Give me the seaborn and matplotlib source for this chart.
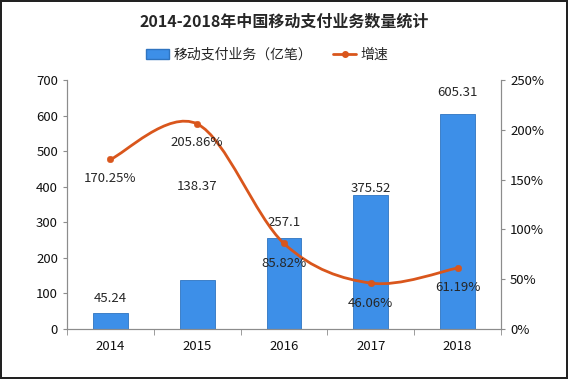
import numpy as np
import pandas as pd
import seaborn as sns
import matplotlib.pyplot as plt
from matplotlib.path import Path
from matplotlib.patches import PathPatch
from matplotlib.lines import Line2D
from matplotlib.patches import Patch

years = ['2014', '2015', '2016', '2017', '2018']
volume = [45.24, 138.37, 257.1, 375.52, 605.31]
growth = [170.25, 205.86, 85.82, 46.06, 61.19]
volume_labels = ['45.24', '138.37', '257.1', '375.52', '605.31']
growth_labels = ['170.25%', '205.86%', '85.82%', '46.06%', '61.19%']

sns.set_style('ticks')
plt.rcParams['font.family'] = ['Noto Sans CJK SC', 'DejaVu Sans']

bar_color = '#3d8fe8'
line_color = '#d9561c'
axis_color = '#8c8c8c'

df = pd.DataFrame({'year': years, 'volume': volume})

fig = plt.figure(figsize=(5.68, 3.79), dpi=100)
fig.patch.set_edgecolor('#222222')
fig.patch.set_linewidth(1.5)
ax = fig.add_axes([0.118, 0.132, 0.764, 0.657])

sns.barplot(data=df, x='year', y='volume', color=bar_color, width=0.4,
            edgecolor='#2f74c0', linewidth=0.6, saturation=1, ax=ax)
ax.set_xlim(-0.5, len(years) - 0.5)
ax.set_ylim(0, 700)
ax.set_yticks(range(0, 701, 100))
ax.set_xlabel('')
ax.set_ylabel('')

ax2 = ax.twinx()
ax2.set_ylim(0, 250)
ax2.set_yticks(range(0, 251, 50))
ax2.set_yticklabels([f'{v}%' for v in range(0, 251, 50)])

# smooth growth line (catmull-rom style bezier through the data points)
pts = np.column_stack([np.arange(len(growth)), growth]).astype(float)
verts = [pts[0]]
codes = [Path.MOVETO]
for i in range(len(pts) - 1):
    p0 = pts[i - 1] if i > 0 else pts[i]
    p1, p2 = pts[i], pts[i + 1]
    p3 = pts[i + 2] if i + 2 < len(pts) else pts[i + 1]
    verts += [p1 + (p2 - p0) / 6, p2 - (p3 - p1) / 6, p2]
    codes += [Path.CURVE4] * 3
ax2.add_patch(PathPatch(Path(verts, codes), facecolor='none',
                        edgecolor=line_color, linewidth=2))
sns.scatterplot(x=np.arange(len(growth)), y=growth, color=line_color, s=22,
                edgecolor=line_color, zorder=5, ax=ax2, legend=False)

# data labels
vol_label_y = [87, 400, 298, 396, 666]
for i, t in enumerate(volume_labels):
    ax.text(i, vol_label_y[i], t, ha='center', va='center', fontsize=9.5)
gr_label_pos = [(0.0, 151), (1.0, 187), (2.0, 66), (3.0, 26), (4.0, 42)]
for (x, y), t in zip(gr_label_pos, growth_labels):
    ax2.text(x, y, t, ha='center', va='center', fontsize=9.5)

for a in (ax, ax2):
    a.spines['top'].set_visible(False)
    for s in ('left', 'right', 'bottom'):
        a.spines[s].set_color(axis_color)
    a.tick_params(colors=axis_color, labelcolor='#111111', labelsize=9.5,
                  length=3)
ax.set_xticks(range(len(years)))
ax.set_xticks(np.arange(-0.5, len(years)), minor=True)
ax.tick_params(axis='x', which='major', length=0, pad=8)
ax.tick_params(axis='x', which='minor', length=4, color=axis_color)

fig.suptitle('2014-2018年中国移动支付业务数量统计', y=0.965, fontsize=11.5,
             fontweight='bold')
handles = [Patch(facecolor=bar_color, edgecolor='#2f74c0'),
           Line2D([], [], color=line_color, lw=2, marker='o', markersize=4)]
fig.legend(handles, ['移动支付业务（亿笔）', '增速'], loc='center',
           bbox_to_anchor=(0.47, 0.855), ncol=2, frameon=False, fontsize=10,
           handlelength=1.7, columnspacing=1.5, handletextpad=0.3)

fig.savefig('out.png', dpi=100)
